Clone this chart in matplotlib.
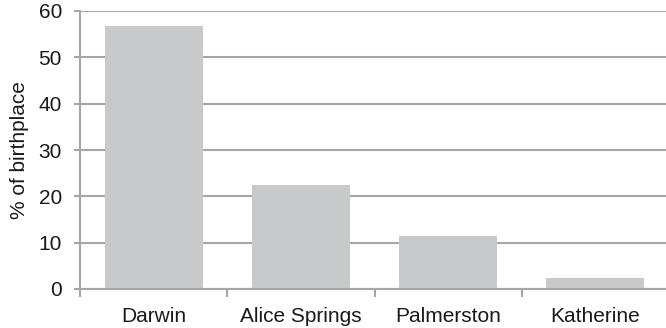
import matplotlib
matplotlib.use("Agg")
import matplotlib.pyplot as plt
import numpy as np

categories = ["Darwin", "Alice Springs", "Palmerston", "Katherine"]
values = [56.8, 22.4, 11.5, 2.4]
yticks = [0, 10, 20, 30, 40, 50, 60]

plt.rcParams['font.family'] = ['Liberation Sans', 'DejaVu Sans']

W, H = 666, 328
fig = plt.figure(figsize=(W / 100, H / 100), dpi=100)
left, right, top, bottom = 80, 669, 11, 289
ax = fig.add_axes([left / W, (H - bottom) / H, (right - left) / W, (bottom - top) / H])

grid_c = "#A6A6A6"
x = np.arange(len(categories))
ax.bar(x, values, width=0.667, color="#C8C9CB", zorder=2)

ax.set_xlim(-0.5, len(categories) - 0.5)
ax.set_ylim(0, 60)
ax.set_yticks(yticks)
ax.set_yticklabels([str(t) for t in yticks])
ax.yaxis.grid(True, color=grid_c, linewidth=1.5, zorder=1)
ax.set_axisbelow(True)

ax.set_xticks(x)
ax.set_xticklabels(categories)
ax.set_xticks(np.arange(-0.5, len(categories), 1.0), minor=True)
ax.tick_params(axis='x', which='major', length=0, pad=13, labelsize=15, labelcolor="#1a1a1a")
ax.tick_params(axis='x', which='minor', length=6, width=1.5, color=grid_c, direction='out')
ax.tick_params(axis='y', length=4, width=1.5, color=grid_c, pad=9, labelsize=15, labelcolor="#1a1a1a")

for s in ["top", "right"]:
    ax.spines[s].set_visible(False)
for s in ["left", "bottom"]:
    ax.spines[s].set_color(grid_c)
    ax.spines[s].set_linewidth(1.5)

ax.set_ylabel("% of birthplace", fontsize=15, color="#1a1a1a", labelpad=7)

fig.savefig("out.png", dpi=100)
